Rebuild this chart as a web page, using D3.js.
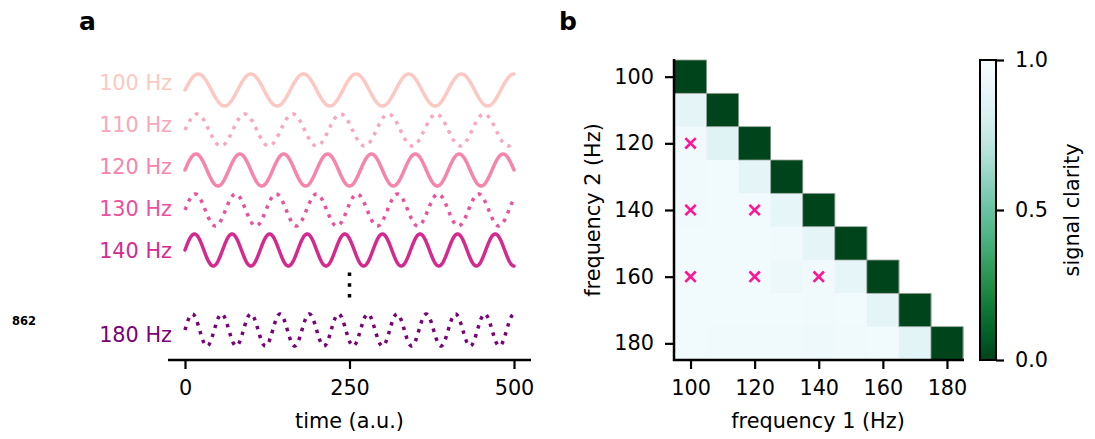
<!DOCTYPE html>
<html>
<head>
<meta charset="utf-8">
<script src="https://cdn.jsdelivr.net/npm/d3@7"></script>
<style>
  html, body { margin: 0; padding: 0; background: #fff; }
  svg { display: block; font-family: "DejaVu Sans", sans-serif; }
</style>
</head>
<body>
<svg id="fig" width="1095" height="439"></svg>
<script>
// ---------- panel a: example tones ----------
const toneFreqs = [100, 110, 120, 130, 140, 180];           // Hz
const toneLabels = ["100 Hz", "110 Hz", "120 Hz", "130 Hz", "140 Hz", "180 Hz"];
const toneColors = ["#fcc8c1", "#f9a7b9", "#f784aa", "#ec4f9b", "#d42a8f", "#7a0177"];
const toneDotted = [false, true, false, true, false, true];
const timeTicks = [0, 250, 500];
const msPerUnit = 0.125;                                     // one a.u. of time in ms

// ---------- panel b: pairwise clarity ----------
const pairFreqs = [100, 110, 120, 130, 140, 150, 160, 170, 180];
// lower triangle, row = frequency 2, column = frequency 1
const clarity = [
  [0],
  [0.88, 0],
  [0.95, 0.85, 0],
  [0.95, 0.96, 0.88, 0],
  [0.95, 0.96, 0.96, 0.89, 0],
  [0.96, 0.96, 0.96, 0.95, 0.88, 0],
  [0.96, 0.96, 0.96, 0.93, 0.95, 0.89, 0],
  [0.96, 0.96, 0.96, 0.96, 0.95, 0.96, 0.88, 0],
  [0.96, 0.95, 0.95, 0.95, 0.94, 0.95, 0.96, 0.87, 0]
];
const markedPairs = [[100, 120], [100, 140], [120, 140], [100, 160], [120, 160], [140, 160]];
const pairTicks = [100, 120, 140, 160, 180];
const clarityTicks = [0, 0.5, 1];

const svg = d3.select("#fig");
const FS = 20.8;
const ink = "#000";

// ================= panel a =================
const gA = svg.append("g");
const xT = d3.scaleLinear().domain([0, 500]).range([185, 514]);
const slotY = d3.scaleLinear().domain([0, 1]).range([90, 130]);      // trace midlines
const labelY = d3.scaleLinear().domain([0, 1]).range([83, 125]);     // trace label centres
const amp = d3.scaleLinear().domain([-1, 1]).range([16, -16]);

const times = d3.range(0, 500.01, 0.5);
toneFreqs.forEach((f, i) => {
  const slot = i < 5 ? i : i + 1;
  const pts = times.map(t => [t, Math.sin(2 * Math.PI * f * t * msPerUnit / 1000)]);
  const line = d3.line()
    .x(d => xT(d[0]))
    .y(d => slotY(slot) + amp(d[1]));
  gA.append("path")
    .datum(pts)
    .attr("d", line)
    .attr("fill", "none")
    .attr("stroke", toneColors[i])
    .attr("stroke-width", 3.5)
    .attr("stroke-linejoin", "round")
    .attr("stroke-linecap", toneDotted[i] ? "butt" : "round")
    .attr("stroke-dasharray", toneDotted[i] ? "3.5 5.8" : null);
  gA.append("text")
    .attr("x", 172)
    .attr("y", labelY(slot))
    .attr("dy", "0.36em")
    .attr("text-anchor", "end")
    .attr("font-size", FS)
    .attr("fill", toneColors[i])
    .text(toneLabels[i]);
});

// ellipsis between 140 Hz and 180 Hz
gA.append("line")
  .attr("x1", xT(250)).attr("x2", xT(250))
  .attr("y1", 272.5).attr("y2", 299)
  .attr("stroke", ink)
  .attr("stroke-width", 3.5)
  .attr("stroke-dasharray", "3.6 7.1");

// time axis
gA.append("line")
  .attr("x1", 168).attr("x2", 531)
  .attr("y1", 360).attr("y2", 360)
  .attr("stroke", ink).attr("stroke-width", 2.5);
const axT = gA.append("g").attr("transform", "translate(0,360)")
  .call(d3.axisBottom(xT).tickValues(timeTicks).tickSize(9).tickPadding(11).tickFormat(d3.format("d")));
axT.select(".domain").remove();
axT.selectAll(".tick line").attr("stroke", ink).attr("stroke-width", 2.2);
axT.selectAll(".tick text").attr("font-size", FS).attr("fill", ink).attr("font-family", "DejaVu Sans");

gA.append("text")
  .attr("x", xT(250)).attr("y", 421).attr("dy", "0.36em")
  .attr("text-anchor", "middle").attr("font-size", FS).text("time (a.u.)");

gA.append("text")
  .attr("x", 12).attr("y", 325)
  .attr("font-size", 11.5).attr("font-weight", "bold").text("862");

svg.append("text")
  .attr("x", 79).attr("y", 30)
  .attr("font-size", 25).attr("font-weight", "bold").text("a");

// ================= panel b =================
const gB = svg.append("g");
const xF = d3.scaleBand().domain(pairFreqs).range([674.5, 963]).padding(0);
const yF = d3.scaleBand().domain(pairFreqs).range([60, 360]).padding(0);
const cmap = v => d3.interpolateBuGn(1 - v);

const cells = [];
clarity.forEach((row, r) => row.forEach((v, c) => cells.push({ f1: pairFreqs[c], f2: pairFreqs[r], v })));

gB.selectAll("rect.cell")
  .data(cells)
  .join("rect")
  .attr("class", "cell")
  .attr("x", d => xF(d.f1))
  .attr("y", d => yF(d.f2))
  .attr("width", xF.bandwidth() + 0.3)
  .attr("height", yF.bandwidth() + 0.3)
  .attr("fill", d => cmap(d.v));

// outline around the diagonal blocks
gB.selectAll("rect.diag")
  .data(cells.filter(d => d.f1 === d.f2))
  .join("rect")
  .attr("class", "diag")
  .attr("x", d => xF(d.f1))
  .attr("y", d => yF(d.f2))
  .attr("width", xF.bandwidth())
  .attr("height", yF.bandwidth())
  .attr("fill", "none")
  .attr("stroke", "#9aa79e")
  .attr("stroke-width", 0.8);

// marked pairs
const cross = 5.2;
markedPairs.forEach(([f1, f2]) => {
  const cx = xF(f1) + xF.bandwidth() / 2;
  const cy = yF(f2) + yF.bandwidth() / 2;
  gB.append("path")
    .attr("d", `M${cx - cross},${cy - cross}L${cx + cross},${cy + cross}M${cx - cross},${cy + cross}L${cx + cross},${cy - cross}`)
    .attr("stroke", "#ff1493")
    .attr("stroke-width", 2.6)
    .attr("fill", "none");
});

// spines
gB.append("line").attr("x1", 674).attr("x2", 674).attr("y1", 59).attr("y2", 361)
  .attr("stroke", ink).attr("stroke-width", 2.5);
gB.append("line").attr("x1", 673).attr("x2", 964).attr("y1", 360).attr("y2", 360)
  .attr("stroke", ink).attr("stroke-width", 2.5);

const xc = f => xF(f) + xF.bandwidth() / 2;
const yc = f => yF(f) + yF.bandwidth() / 2;
const xTickScale = d3.scaleLinear().domain([100, 180]).range([xc(100), xc(180)]);
const yTickScale = d3.scaleLinear().domain([100, 180]).range([yc(100), yc(180)]);

const axX = gB.append("g").attr("transform", "translate(0,360)")
  .call(d3.axisBottom(xTickScale).tickValues(pairTicks).tickSize(9).tickPadding(11).tickFormat(d3.format("d")));
const axY = gB.append("g").attr("transform", "translate(674,0)")
  .call(d3.axisLeft(yTickScale).tickValues(pairTicks).tickSize(9).tickPadding(11).tickFormat(d3.format("d")));
[axX, axY].forEach(ax => {
  ax.select(".domain").remove();
  ax.selectAll(".tick line").attr("stroke", ink).attr("stroke-width", 2.2);
  ax.selectAll(".tick text").attr("font-size", FS).attr("fill", ink).attr("font-family", "DejaVu Sans");
});

gB.append("text")
  .attr("x", 818).attr("y", 421).attr("dy", "0.36em")
  .attr("text-anchor", "middle").attr("font-size", FS).text("frequency 1 (Hz)");
gB.append("text")
  .attr("transform", "translate(592,210) rotate(-90)")
  .attr("dy", "0.36em")
  .attr("text-anchor", "middle").attr("font-size", FS).text("frequency 2 (Hz)");

svg.append("text")
  .attr("x", 559).attr("y", 30)
  .attr("font-size", 25).attr("font-weight", "bold").text("b");

// ---------- colour bar ----------
const cb = svg.append("g");
const cbY = d3.scaleLinear().domain([0, 1]).range([360, 60]);
const grad = svg.append("defs").append("linearGradient")
  .attr("id", "cbGrad").attr("x1", 0).attr("y1", 1).attr("x2", 0).attr("y2", 0);
d3.range(0, 1.0001, 0.05).forEach(t => {
  grad.append("stop").attr("offset", t).attr("stop-color", cmap(t));
});
cb.append("rect")
  .attr("x", 980).attr("y", cbY(1))
  .attr("width", 16).attr("height", cbY(0) - cbY(1))
  .attr("fill", "url(#cbGrad)")
  .attr("stroke", ink).attr("stroke-width", 2);
const axC = cb.append("g").attr("transform", "translate(996,0)")
  .call(d3.axisRight(cbY).tickValues(clarityTicks).tickSize(8).tickPadding(11).tickFormat(d3.format(".1f")));
axC.select(".domain").remove();
axC.selectAll(".tick line").attr("stroke", ink).attr("stroke-width", 2.2);
axC.selectAll(".tick text").attr("font-size", FS).attr("fill", ink).attr("font-family", "DejaVu Sans");
cb.append("text")
  .attr("transform", "translate(1071,210) rotate(-90)")
  .attr("dy", "0.36em")
  .attr("text-anchor", "middle").attr("font-size", FS).text("signal clarity");
</script>
</body>
</html>
